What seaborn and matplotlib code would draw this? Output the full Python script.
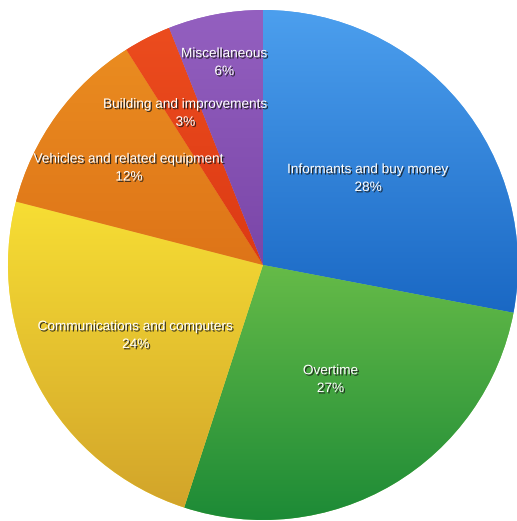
import numpy as np
import matplotlib
matplotlib.use("Agg")
import matplotlib.pyplot as plt
import matplotlib.patheffects as pe
from matplotlib.colors import LinearSegmentedColormap
import seaborn as sns

# Budget breakdown, clockwise from 12 o'clock
categories = [
    "Informants and buy money",
    "Overtime",
    "Communications and computers",
    "Vehicles and related equipment",
    "Building and improvements",
    "Miscellaneous",
]
shares = [28, 27, 24, 12, 3, 6]

# (top, bottom) shades for the vertical gradient of each slice
top_colors = ["#4c9fee", "#66bb48", "#f7de34", "#ea8c20", "#ec4c1e", "#9460c0"]
bottom_colors = ["#1a68c4", "#1c8a36", "#d2a42a", "#de7418", "#dc3a14", "#7a46a8"]
# radial position of each label, as a fraction of the radius
label_radius = [0.535, 0.52, 0.57, 0.65, 0.67, 0.81]

sns.set_theme(style="white")
plt.rcParams["font.family"] = ["Liberation Sans", "DejaVu Sans"]

fig = plt.figure(figsize=(5.17, 5.21), dpi=100)
ax = fig.add_axes([0, 0, 1, 1])

wedges, _ = ax.pie(
    shares,
    startangle=90,
    counterclock=False,
    radius=1.0,
    colors=top_colors,
    wedgeprops=dict(linewidth=0),
)

# Paint each slice with a top-to-bottom gradient clipped to its shape
for w, c0, c1 in zip(wedges, top_colors, bottom_colors):
    verts = w.get_path().vertices
    tr = w.get_patch_transform()
    pts = tr.transform(verts)
    ymin, ymax = pts[:, 1].min(), pts[:, 1].max()
    xmin, xmax = pts[:, 0].min(), pts[:, 0].max()
    cmap = LinearSegmentedColormap.from_list("g", [c1, c0])
    grad = np.linspace(0, 1, 256).reshape(-1, 1)
    im = ax.imshow(grad, cmap=cmap, origin="lower", aspect="auto",
                   extent=(xmin, xmax, ymin, ymax), interpolation="bicubic",
                   zorder=w.get_zorder() + 0.1)
    im.set_clip_path(w)

shadow = [pe.SimplePatchShadow(offset=(1.0, -1.0), shadow_rgbFace="#1a1a1a", alpha=0.85),
          pe.Normal()]

theta = 90.0
total = float(sum(shares))
for name, val, r in zip(categories, shares, label_radius):
    span = 360.0 * val / total
    mid = np.deg2rad(theta - span / 2)
    theta -= span
    ax.text(r * np.cos(mid), r * np.sin(mid), f"{name}\n{val}%",
            ha="center", va="center", color="white", fontsize=9.8,
            linespacing=1.35, zorder=10, path_effects=shadow)

# Put the pie centre and radius where they belong on the canvas
ax.set_xlim(-263 / 255, (517 - 263) / 255)
ax.set_ylim(-(521 - 265) / 255, 265 / 255)
ax.set_aspect("equal")
ax.axis("off")

fig.savefig("out.png", dpi=100)
